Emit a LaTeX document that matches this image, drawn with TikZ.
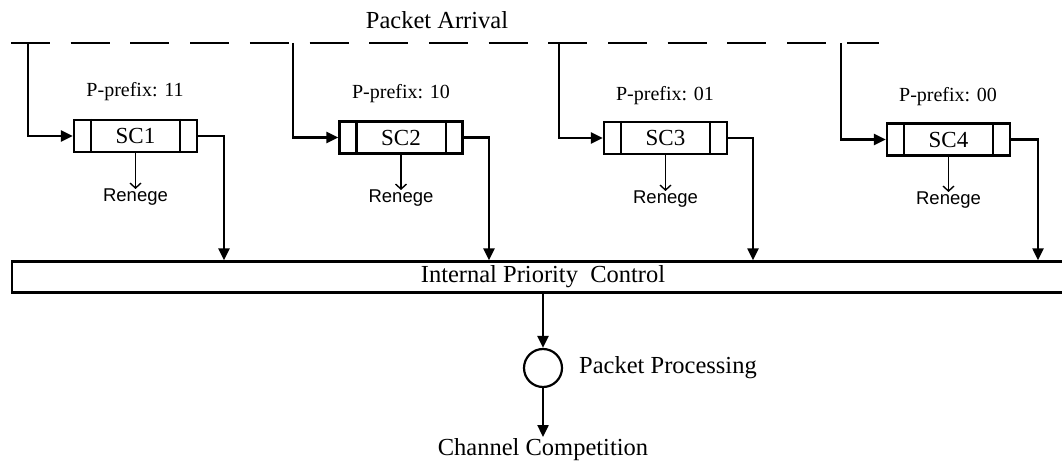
\documentclass[tikz,border=0pt]{standalone}
\usepackage{fontspec}
\setmainfont{Liberation Serif}
\newfontfamily\renegefont{Liberation Sans}
\usetikzlibrary{arrows.meta}
\tikzset{
  line/.style={line width=2.4pt},
  flow/.style={line width=2.4pt,-{Triangle[length=12pt,width=11pt]}},
  thinflow/.style={line width=1.4pt,-{Straight Barb[length=5pt,width=11pt,line width=1.4pt]}},
  queuebox/.style={draw,line width=2.4pt,minimum width=123pt,minimum height=32pt,inner sep=0pt,
    font=\fontsize{23}{26}\selectfont},
  pfxtext/.style={inner sep=0pt,font=\fontsize{20}{24}\selectfont},
  renegetext/.style={anchor=north,inner sep=0pt,font=\renegefont\fontsize{18.5}{22}\selectfont},
  bigtext/.style={inner sep=0pt,font=\fontsize{24.5}{28}\selectfont},
}
% divider bars at both ends of a queue
\newcommand{\queuebars}[1]{%
  \draw[line] ([xshift=18pt]#1.north west) -- ([xshift=18pt]#1.south west);
  \draw[line] ([xshift=-18pt]#1.north east) -- ([xshift=-18pt]#1.south east);
}
\begin{document}
\begin{tikzpicture}[x=1pt,y=-1pt]
\useasboundingbox (0,0) rectangle (1062,462);
\clip (0,0) rectangle (1062,462);

% arrival bus
\node[bigtext] (arr) at (437,20) {Packet Arrival};
\coordinate (d0) at (11,43);
\coordinate (d1) at (879,43);
\draw[line,dash pattern=on 39pt off 20.7pt] (d0) -- (d1);
\coordinate (a1) at (28,43);
\coordinate (a2) at (293,43);
\coordinate (a3) at (559,43);
\coordinate (a4) at (841,43);

% sub-channel queues
\node[queuebox] (sc1) at (135.5,136) {SC1};
\node[queuebox] (sc2) at (401,137.5) {SC2};
\node[queuebox] (sc3) at (665.5,138) {SC3};
\node[queuebox] (sc4) at (948.5,139.5) {SC4};
\queuebars{sc1}
\queuebars{sc2}
\queuebars{sc3}
\queuebars{sc4}

\node[pfxtext] (p1) at (135,92) {P-prefix: 11};
\node[pfxtext] (p2) at (401,94) {P-prefix: 10};
\node[pfxtext] (p3) at (665,96) {P-prefix: 01};
\node[pfxtext] (p4) at (948,97) {P-prefix: 00};

% reneging packets
\node[renegetext] (r1) at (135.5,189) {Renege};
\node[renegetext] (r2) at (401,190) {Renege};
\node[renegetext] (r3) at (665.5,191) {Renege};
\node[renegetext] (r4) at (948.5,192) {Renege};
\draw[thinflow] (sc1.south) -- (r1.north);
\draw[thinflow] (sc2.south) -- (r2.north);
\draw[thinflow] (sc3.south) -- (r3.north);
\draw[thinflow] (sc4.south) -- (r4.north);

% priority control
\node[draw,line width=2.4pt,minimum width=1062pt,minimum height=31pt,bigtext] (ipc) at (543,277)
  {Internal Priority\ \ Control};

% feeds from the bus into the queues
\draw[flow] (a1) |- (sc1.west);
\draw[flow] (a2) |- (sc2.west);
\draw[flow] (a3) |- (sc3.west);
\draw[flow] (a4) |- (sc4.west);

% queue outputs into the priority control
\coordinate (x1) at (224,0);
\coordinate (x2) at (489,0);
\coordinate (x3) at (753,0);
\coordinate (x4) at (1038,0);
\draw[flow] (sc1.east) -| (ipc.north -| x1);
\draw[flow] (sc2.east) -| (ipc.north -| x2);
\draw[flow] (sc3.east) -| (ipc.north -| x3);
\draw[flow] (sc4.east) -| (ipc.north -| x4);

% processing server
\node[draw,circle,line width=2.2pt,minimum size=38pt,inner sep=0pt] (proc) at (543,368) {};
\node[bigtext,anchor=west] (proclbl) at (579,368) {Packet Processing};
\node[bigtext,anchor=north,inner sep=1pt] (chan) at (543,437) {Channel Competition};
\draw[flow] (ipc.south) -- (proc.north);
\draw[flow] (proc.south) -- (chan.north);
\end{tikzpicture}
\end{document}
